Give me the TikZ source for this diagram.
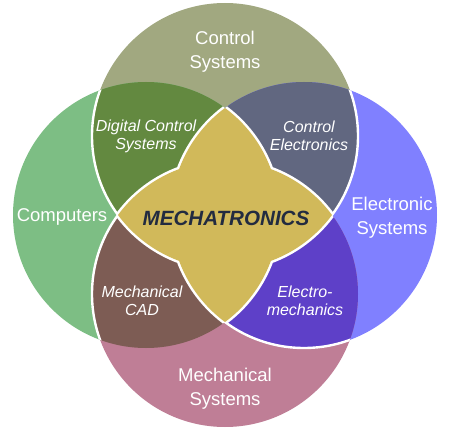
\documentclass[tikz,border=0pt]{standalone}
\usepackage{fontspec}
\setmainfont{Liberation Sans}
\definecolor{cTop}{RGB}{161,168,128}
\definecolor{cLeft}{RGB}{125,190,132}
\definecolor{cRight}{RGB}{128,128,255}
\definecolor{cBot}{RGB}{191,126,150}
\definecolor{cTL}{RGB}{99,137,64}
\definecolor{cTR}{RGB}{97,103,128}
\definecolor{cBL}{RGB}{125,92,84}
\definecolor{cBR}{RGB}{94,64,200}
\definecolor{cGold}{RGB}{209,185,90}
\definecolor{cMt}{RGB}{34,43,64}
\begin{document}
\begin{tikzpicture}[x=1pt,y=-1pt,
  lbl/.style={text=white,font=\fontsize{18.5}{24}\selectfont,align=center,inner sep=0pt},
  sub/.style={text=white,font=\fontsize{16}{18}\selectfont\itshape,align=center,inner sep=0pt},
  wline/.style={draw=white,line width=2.4pt},
  gline/.style={draw=white,line width=5pt}]
\useasboundingbox (0,0) rectangle (456,436);
\def\R{133pt}
\coordinate (cT) at (225,136);
\coordinate (cL) at (146,215);
\coordinate (cR) at (304,215);
\coordinate (cB) at (225,294);
% single circles
\fill[cTop] (cT) circle[radius=\R];
\fill[cLeft] (cL) circle[radius=\R];
\fill[cRight] (cR) circle[radius=\R];
\fill[cBot] (cB) circle[radius=\R];
% pair lenses
\begin{scope}\clip (cT) circle[radius=\R]; \fill[cTL] (cL) circle[radius=\R]; \end{scope}
\begin{scope}\clip (cT) circle[radius=\R]; \fill[cTR] (cR) circle[radius=\R]; \end{scope}
\begin{scope}\clip (cB) circle[radius=\R]; \fill[cBL] (cL) circle[radius=\R]; \end{scope}
\begin{scope}\clip (cB) circle[radius=\R]; \fill[cBR] (cR) circle[radius=\R]; \end{scope}
% white separating arcs
\begin{scope}\clip (cL) circle[radius=\R];
  \draw[wline] (cT) circle[radius=\R];
  \draw[wline] (cB) circle[radius=\R];
\end{scope}
\begin{scope}\clip (cR) circle[radius=\R]; \draw[wline] (cT) circle[radius=\R]; \end{scope}
\begin{scope}\clip (cB) circle[radius=\R]; \draw[wline] (cR) circle[radius=\R]; \end{scope}
% centre star outline
\begin{scope}\clip (cL) circle[radius=\R]; \draw[gline] (cR) circle[radius=\R]; \end{scope}
\begin{scope}\clip (cR) circle[radius=\R]; \draw[gline] (cL) circle[radius=\R]; \end{scope}
\begin{scope}\clip (cT) circle[radius=\R]; \draw[gline] (cB) circle[radius=\R]; \end{scope}
\begin{scope}\clip (cB) circle[radius=\R]; \draw[gline] (cT) circle[radius=\R]; \end{scope}
% centre star fill
\begin{scope}\clip (cL) circle[radius=\R]; \fill[cGold] (cR) circle[radius=\R]; \end{scope}
\begin{scope}\clip (cT) circle[radius=\R]; \fill[cGold] (cB) circle[radius=\R]; \end{scope}
% labels
\node[lbl] (ctrl) at (225,52) {Control\\Systems};
\node[lbl] (comp) at (62,217) {Computers};
\node[lbl] (elec) at (392,218) {Electronic\\Systems};
\node[lbl] (mech) at (225,389) {Mechanical\\Systems};
\node[sub] (dcs) at (146,136) {Digital Control\\Systems};
\node[sub] (ce) at (309,136) {Control\\Electronics};
\node[sub] (cad) at (142,301) {Mechanical\\CAD};
\node[sub] (em) at (305,301) {Electro-\\mechanics};
\node[text=cMt,font=\fontsize{20.6}{24}\selectfont\bfseries\itshape,inner sep=0pt] (mt) at (226,218) {MECHATRONICS};
\end{tikzpicture}
\end{document}
